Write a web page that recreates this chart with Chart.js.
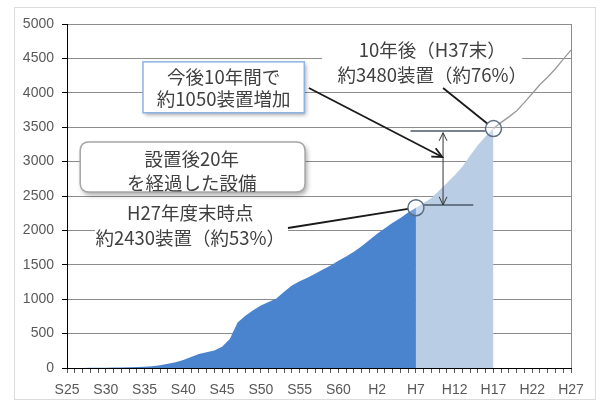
<!DOCTYPE html>
<html>
<head>
<meta charset="utf-8">
<script src="https://cdn.jsdelivr.net/npm/chart.js@4.4.1/dist/chart.umd.min.js"></script>
<style>
  html, body { margin: 0; padding: 0; background: #fff; }
  #wrap { width: 603px; height: 402px; }
</style>
</head>
<body>
<div id="wrap"><canvas id="chart" width="603" height="402"></canvas></div>
<script>
// fiscal years S25 (1950) .. H27 (2015)
var years = [
    'S25', 'S26', 'S27', 'S28', 'S29', 'S30', 'S31', 'S32', 'S33', 'S34',
    'S35', 'S36', 'S37', 'S38', 'S39', 'S40', 'S41', 'S42', 'S43', 'S44',
    'S45', 'S46', 'S47', 'S48', 'S49', 'S50', 'S51', 'S52', 'S53', 'S54',
    'S55', 'S56', 'S57', 'S58', 'S59', 'S60', 'S61', 'S62', 'S63', 'H1',
    'H2', 'H3', 'H4', 'H5', 'H6', 'H7', 'H8', 'H9', 'H10', 'H11',
    'H12', 'H13', 'H14', 'H15', 'H16', 'H17', 'H18', 'H19', 'H20', 'H21',
    'H22', 'H23', 'H24', 'H25', 'H26', 'H27'
];

// cumulative number of installed devices
var installed = [
    0, 0, 1, 2, 3, 4, 6, 8, 10, 13,
    17, 26, 40, 60, 85, 115, 160, 205, 230, 255,
    310, 420, 660, 760, 840, 910, 960, 1010, 1110, 1200,
    1260, 1310, 1370, 1430, 1490, 1560, 1620, 1690, 1770, 1860,
    1950, 2030, 2110, 2180, 2260, 2330, 2400, 2470, 2580, 2690,
    2800, 2930, 3090, 3240, 3370, 3480, 3570, 3650, 3740, 3860,
    3990, 4120, 4230, 4350, 4490, 4620
];

var xTickLabels = ['S25', 'S30', 'S35', 'S40', 'S45', 'S50', 'S55', 'S60', 'H2', 'H7', 'H12', 'H17', 'H22', 'H27'];
var nowYear = 'H7';
var futureYear = 'H17';

var noteIncrease = ['今後10年間で', '約1050装置増加'];
var noteOld = ['設置後20年', 'を経過した設備'];
var noteNow = ['H27年度末時点', '約2430装置（約53%）'];
var noteFuture = ['10年後（H37末）', '約3480装置（約76%）'];

var nowIdx = years.indexOf(nowYear);
var futIdx = years.indexOf(futureYear);

var pastSeries = installed.map(function (v, i) { return i <= nowIdx ? v : null; });
var nextSeries = installed.map(function (v, i) { return (i >= nowIdx && i <= futIdx) ? v : null; });
var laterSeries = installed.map(function (v, i) { return i >= futIdx ? v : null; });

function arrowHead(c, x1, y1, x2, y2, size) {
    var ang = Math.atan2(y2 - y1, x2 - x1);
    c.beginPath();
    c.moveTo(x2 - size * Math.cos(ang - 0.45), y2 - size * Math.sin(ang - 0.45));
    c.lineTo(x2, y2);
    c.lineTo(x2 - size * Math.cos(ang + 0.45), y2 - size * Math.sin(ang + 0.45));
    c.stroke();
}

function line(c, x1, y1, x2, y2) {
    c.beginPath();
    c.moveTo(x1, y1);
    c.lineTo(x2, y2);
    c.stroke();
}

function roundRect(c, x, y, w, h, r) {
    c.beginPath();
    c.moveTo(x + r, y);
    c.lineTo(x + w - r, y);
    c.quadraticCurveTo(x + w, y, x + w, y + r);
    c.lineTo(x + w, y + h - r);
    c.quadraticCurveTo(x + w, y + h, x + w - r, y + h);
    c.lineTo(x + r, y + h);
    c.quadraticCurveTo(x, y + h, x, y + h - r);
    c.lineTo(x, y + r);
    c.quadraticCurveTo(x, y, x + r, y);
    c.closePath();
}

function drawLines(c, lines, cx, ys) {
    c.fillStyle = '#404040';
    c.font = '18.5px "Noto Sans CJK JP"';
    c.textAlign = 'center';
    c.textBaseline = 'middle';
    lines.forEach(function (t, i) { c.fillText(t, cx, ys[i]); });
}

var notesPlugin = {
    id: 'notes',
    beforeDraw: function (chart) {
        var c = chart.ctx;
        c.save();
        c.fillStyle = '#fff';
        c.fillRect(0, 0, chart.width, chart.height);
        c.strokeStyle = '#dcdcdc';
        c.lineWidth = 1;
        c.strokeRect(14.5, 7.5, 581, 392);
        c.restore();
    },
    afterDraw: function (chart) {
        var c = chart.ctx, a = chart.chartArea;
        var sx = chart.scales.x, sy = chart.scales.y;
        function px(i) { return sx.getPixelForValue(i); }
        function py(v) { return sy.getPixelForValue(v); }
        var r = 8;
        var nowX = px(nowIdx), nowY = py(installed[nowIdx]);
        var futX = px(futIdx), futY = py(installed[futIdx]);

        c.save();
        // right border of plot area
        c.strokeStyle = '#8c8c8c';
        c.lineWidth = 1;
        line(c, Math.round(a.right) + 0.5, a.top, Math.round(a.right) + 0.5, a.bottom);

        // level lines and span arrow
        c.strokeStyle = '#4d5a6a';
        c.lineWidth = 1.5;
        line(c, px(44.3), py(3445), futX - r, py(3445));
        line(c, nowX + r, py(2370), px(52.4), py(2370));
        c.lineWidth = 1;
        c.strokeStyle = '#333';
        var ax = px(48.5);
        line(c, ax, py(3420), ax, py(2370));
        arrowHead(c, ax, py(2370), ax, py(3420), 9);
        arrowHead(c, ax, py(3420), ax, py(2370), 9);

        // text backgrounds
        c.fillStyle = '#fff';
        c.fillRect(px(32.9), py(4826), px(58.7) - px(32.9), py(4113) - py(4826));
        c.fillRect(px(3.6), py(2442), px(28.5) - px(3.6), py(1715) - py(2442));

        // leader lines to markers
        c.strokeStyle = '#1a1a1a';
        c.lineWidth = 1.8;
        var lx = px(28.5), ly = py(2035);
        var d = Math.hypot(nowX - lx, nowY - ly);
        line(c, lx, ly, nowX - (nowX - lx) * r / d, nowY - (nowY - ly) * r / d);
        lx = px(48.5); ly = py(4070);
        d = Math.hypot(futX - lx, futY - ly);
        line(c, lx, ly, futX - (futX - lx) * r / d, futY - (futY - ly) * r / d);

        drawLines(c, noteNow, px(15.9), [py(2253), py(1890)]);
        drawLines(c, noteFuture, px(47.1), [py(4622), py(4259)]);

        // rounded box
        var bx = px(1.7), by = py(3285), bw = px(30.7) - bx, bh = py(2558) - by;
        c.save();
        c.shadowColor = 'rgba(0,0,0,0.35)';
        c.shadowBlur = 5;
        c.shadowOffsetX = 2;
        c.shadowOffsetY = 3;
        roundRect(c, bx, by, bw, bh, 9);
        c.fillStyle = '#fff';
        c.fill();
        c.restore();
        roundRect(c, bx, by, bw, bh, 9);
        c.strokeStyle = '#a6a6a6';
        c.lineWidth = 1.5;
        c.stroke();
        drawLines(c, noteOld, px(16.1), [py(3038), py(2689)]);

        // increase box
        bx = px(9.8); by = py(4450); bw = px(30.6) - bx; bh = py(3710) - by;
        c.save();
        c.shadowColor = 'rgba(0,0,0,0.35)';
        c.shadowBlur = 4;
        c.shadowOffsetX = 2;
        c.shadowOffsetY = 2;
        c.fillStyle = '#fff';
        c.fillRect(bx, by, bw, bh);
        c.restore();
        c.strokeStyle = '#8db3e2';
        c.lineWidth = 1.5;
        c.strokeRect(bx, by, bw, bh);
        drawLines(c, noteIncrease, px(20.2), [py(4230), py(3910)]);

        // arrow from box to span
        c.strokeStyle = '#1a1a1a';
        c.lineWidth = 1.8;
        var x1 = px(31.2), y1 = py(4070), x2 = px(48.4), y2 = py(3067);
        line(c, x1, y1, x2, y2);
        arrowHead(c, x1, y1, x2, y2, 11);

        // markers
        c.strokeStyle = '#5b6e85';
        c.lineWidth = 1.5;
        c.fillStyle = 'rgba(255,255,255,0.25)';
        [[nowX, nowY], [futX, futY]].forEach(function (p) {
            c.beginPath();
            c.arc(p[0], p[1], r, 0, Math.PI * 2);
            c.fill();
            c.stroke();
        });
        c.restore();
    }
};

var axisFont = { family: '"Liberation Sans", Arial, sans-serif', size: 14 };

new Chart(document.getElementById('chart'), {
    type: 'line',
    data: {
        labels: years,
        datasets: [
            {
                data: pastSeries,
                borderWidth: 0,
                borderColor: 'rgba(0,0,0,0)',
                backgroundColor: '#4a84cf',
                fill: 'origin',
                pointRadius: 0,
                tension: 0
            },
            {
                data: nextSeries,
                borderWidth: 0,
                borderColor: 'rgba(0,0,0,0)',
                backgroundColor: '#b9cde5',
                fill: 'origin',
                pointRadius: 0,
                tension: 0
            },
            {
                data: laterSeries,
                borderWidth: 1.3,
                borderColor: '#9a9a9a',
                fill: false,
                pointRadius: 0,
                tension: 0
            }
        ]
    },
    options: {
        responsive: false,
        animation: false,
        layout: { padding: { left: 0, right: 32, top: 24, bottom: 0 } },
        plugins: {
            legend: { display: false },
            tooltip: { enabled: false }
        },
        scales: {
            x: {
                grid: { drawOnChartArea: false, drawTicks: true, tickLength: 5, tickColor: '#595959' },
                border: { color: '#000', width: 1 },
                ticks: {
                    autoSkip: false,
                    maxRotation: 0,
                    padding: 9,
                    color: '#595959',
                    font: axisFont,
                    callback: function (value, i) {
                        return xTickLabels.indexOf(years[i]) >= 0 ? years[i] : '';
                    }
                },
                afterFit: function (scale) { scale.height = 34; }
            },
            y: {
                min: 0,
                max: 5000,
                ticks: {
                    stepSize: 500,
                    padding: 8,
                    color: '#595959',
                    font: axisFont,
                    callback: function (value) { return String(value); }
                },
                grid: { color: '#8c8c8c', tickLength: 5, tickColor: '#000' },
                border: { color: '#000', width: 1 },
                afterFit: function (scale) { scale.width = 67; }
            }
        }
    },
    plugins: [notesPlugin]
});
</script>
</body>
</html>
